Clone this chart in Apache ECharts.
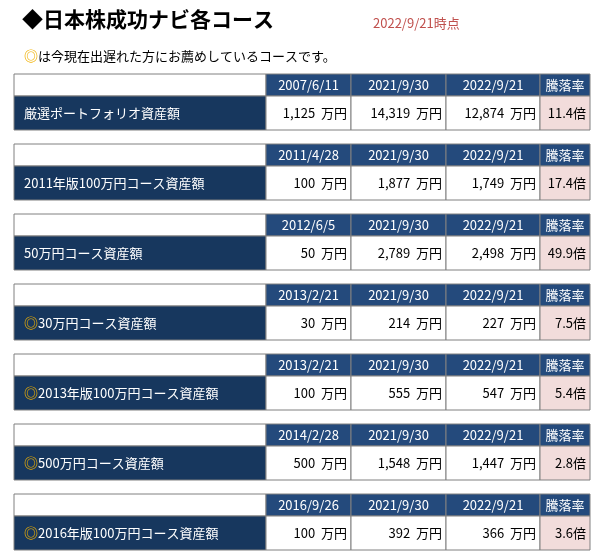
<!DOCTYPE html>
<html><head><meta charset="utf-8">
<script src="https://cdn.jsdelivr.net/npm/echarts@6/dist/echarts.min.js"></script>
<style>html,body{margin:0;padding:0;background:#fff}#c{width:603px;height:555px}</style>
</head><body><div id="c"></div>
<script>
const courseNames = ["厳選ポートフォリオ資産額","2011年版100万円コース資産額","50万円コース資産額","◎30万円コース資産額","◎2013年版100万円コース資産額","◎500万円コース資産額","◎2016年版100万円コース資産額"];
const startDates = ["2007/6/11","2011/4/28","2012/6/5","2013/2/21","2013/2/21","2014/2/28","2016/9/26"];
const midDates = ["2021/9/30","2021/9/30","2021/9/30","2021/9/30","2021/9/30","2021/9/30","2021/9/30"];
const endDates = ["2022/9/21","2022/9/21","2022/9/21","2022/9/21","2022/9/21","2022/9/21","2022/9/21"];
const startValues = [1125,100,50,30,100,500,100];
const midValues = [14319,1877,2789,214,555,1548,392];
const endValues = [12874,1749,2498,227,547,1447,366];
const ratios = ["11.4","17.4","49.9","7.5","5.4","2.8","3.6"];

const F = '"Noto Sans CJK JP", sans-serif';
const cols = [14, 266, 351, 446, 540, 590];
const g = [];
const ring = {fill:'#f0b000',font:'bold 14px '+F};
g.push({type:'text', left:22, top:9, style:{text:'◆日本株成功ナビ各コース', font:'bold 21px '+F, fill:'#000'}});
g.push({type:'text', left:373, top:17, style:{text:'2022/9/21時点', font:'13px '+F, fill:'#c0504d'}});
g.push({type:'text', left:24, top:49, style:{rich:{a:ring,b:{fill:'#000',font:'13px '+F}}, text:'{a|◎}{b|は今現在出遅れた方にお薦めしているコースです。}'}});
const fmt = v => v.toLocaleString('en-US') + '  万円';
function cell(x0,x1,y0,y1,fill,text,color,align){
  g.push({type:'rect', shape:{x:x0,y:y0,width:x1-x0,height:y1-y0}, style:{fill:fill, stroke:'#808080', lineWidth:1}});
  if(text!==undefined){
    const tx = align==='left'? x0+10 : (align==='right'? x1-4 : (x0+x1)/2);
    g.push({type:'text', x:tx, y:(y0+y1)/2, style:{text:text, font:'13px '+F, fill:color, align:align||'center', verticalAlign:'middle', rich:{a:ring,b:{fill:color,font:'13px '+F}}}});
  }
}
courseNames.forEach((n,i)=>{
  const y = 74 + i*70, hy = y+22, by = hy+34;
  cell(cols[0],cols[1],y,hy,'#fff');
  cell(cols[1],cols[2],y,hy,'#244a7c',startDates[i],'#fff');
  cell(cols[2],cols[3],y,hy,'#244a7c',midDates[i],'#fff');
  cell(cols[3],cols[4],y,hy,'#244a7c',endDates[i],'#fff');
  cell(cols[4],cols[5],y,hy,'#244a7c','騰落率','#fff');
  const nt = n.startsWith('◎') ? '{a|◎}{b|'+n.slice(1)+'}' : n;
  cell(cols[0],cols[1],hy,by,'#17375e',nt,'#fff','left');
  cell(cols[1],cols[2],hy,by,'#fff',fmt(startValues[i]),'#000','right');
  cell(cols[2],cols[3],hy,by,'#fff',fmt(midValues[i]),'#000','right');
  cell(cols[3],cols[4],hy,by,'#fff',fmt(endValues[i]),'#000','right');
  cell(cols[4],cols[5],hy,by,'#f2dcdb',ratios[i]+'倍','#000','right');
});
const chart = echarts.init(document.getElementById('c'));
chart.setOption({animation:false, graphic:g});
</script></body></html>
